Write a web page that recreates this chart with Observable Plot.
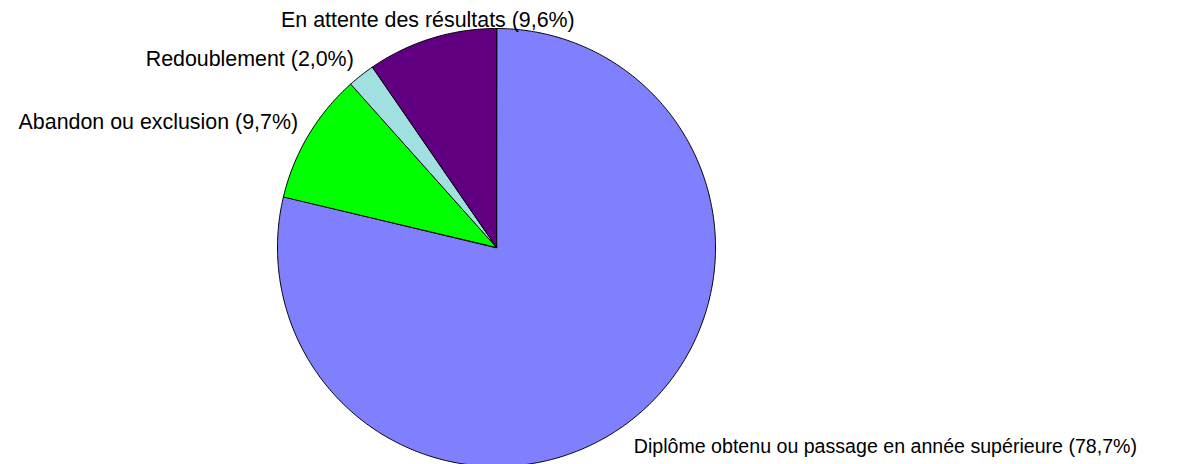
<!DOCTYPE html>
<html><head><meta charset="utf-8">
<script src="https://cdn.jsdelivr.net/npm/d3@7"></script>
<script src="https://cdn.jsdelivr.net/npm/@observablehq/plot@0.6"></script>
<style>body{margin:0;background:#fff;overflow:hidden}</style>
</head><body><div id="chart"></div>
<script>
const categories = ["Diplôme obtenu ou passage en année supérieure", "Abandon ou exclusion", "Redoublement", "En attente des résultats"];
const values = [78.7, 9.7, 2.0, 9.6];
const valueLabels = ["78,7%", "9,7%", "2,0%", "9,6%"];
const colors = ["#8080ff", "#00ff00", "#a0e0e0", "#600080"];

const W = 1195, H = 464;
const cx = 496, cy = 247, R = 219, labelR = 231;

const rows = categories.map((c, i) => ({name: c, value: values[i], label: `${c} (${valueLabels[i]})`}));
const arcs = d3.pie().sort(null).value(d => d.value)(rows);

// slice outlines as closed polygons in unit-circle coordinates
const pts = [];
for (const a of arcs) {
  pts.push({name: a.data.name, x: 0, y: 0});
  const n = Math.max(8, Math.ceil((a.endAngle - a.startAngle) / 0.01));
  for (let k = 0; k <= n; k++) {
    const t = a.startAngle + (a.endAngle - a.startAngle) * k / n;
    pts.push({name: a.data.name, x: Math.sin(t), y: Math.cos(t)});
  }
}

const labs = arcs.map(a => {
  const m = (a.startAngle + a.endAngle) / 2;
  const s = Math.sin(m), c = Math.cos(m);
  return {
    label: a.data.label,
    x: s * labelR / R, y: c * labelR / R,
    ta: s > 0.3 ? "start" : s < -0.3 ? "end" : "middle",
    la: c > 0 ? "bottom" : "top"
  };
});
const groups = d3.groups(labs, d => d.ta + "|" + d.la);

const chart = Plot.plot({
  width: W, height: H,
  margin: 0,
  x: {type: "linear", domain: [-cx / R, (W - cx) / R], range: [0, W], axis: null},
  y: {type: "linear", domain: [-(H - cy) / R, cy / R], range: [H, 0], axis: null},
  color: {domain: categories, range: colors},
  style: {fontFamily: "'Liberation Sans', Arial, sans-serif", background: "#fff"},
  marks: [
    Plot.line(pts, {x: "x", y: "y", z: "name", fill: "name", stroke: "#000", strokeWidth: 1, curve: "linear-closed"}),
    ...groups.map(([key, g]) => {
      const [ta, la] = key.split("|");
      return Plot.text(g, {
        x: "x", y: "y", text: "label",
        textAnchor: ta, lineAnchor: la,
        dy: la === "top" ? 10 : 0, dx: la === "top" ? -6 : 0,
        fontSize: la === "top" ? 19.6 : 21.4, fill: "#000"
      });
    })
  ]
});
document.getElementById("chart").appendChild(chart);
</script>
</body></html>
